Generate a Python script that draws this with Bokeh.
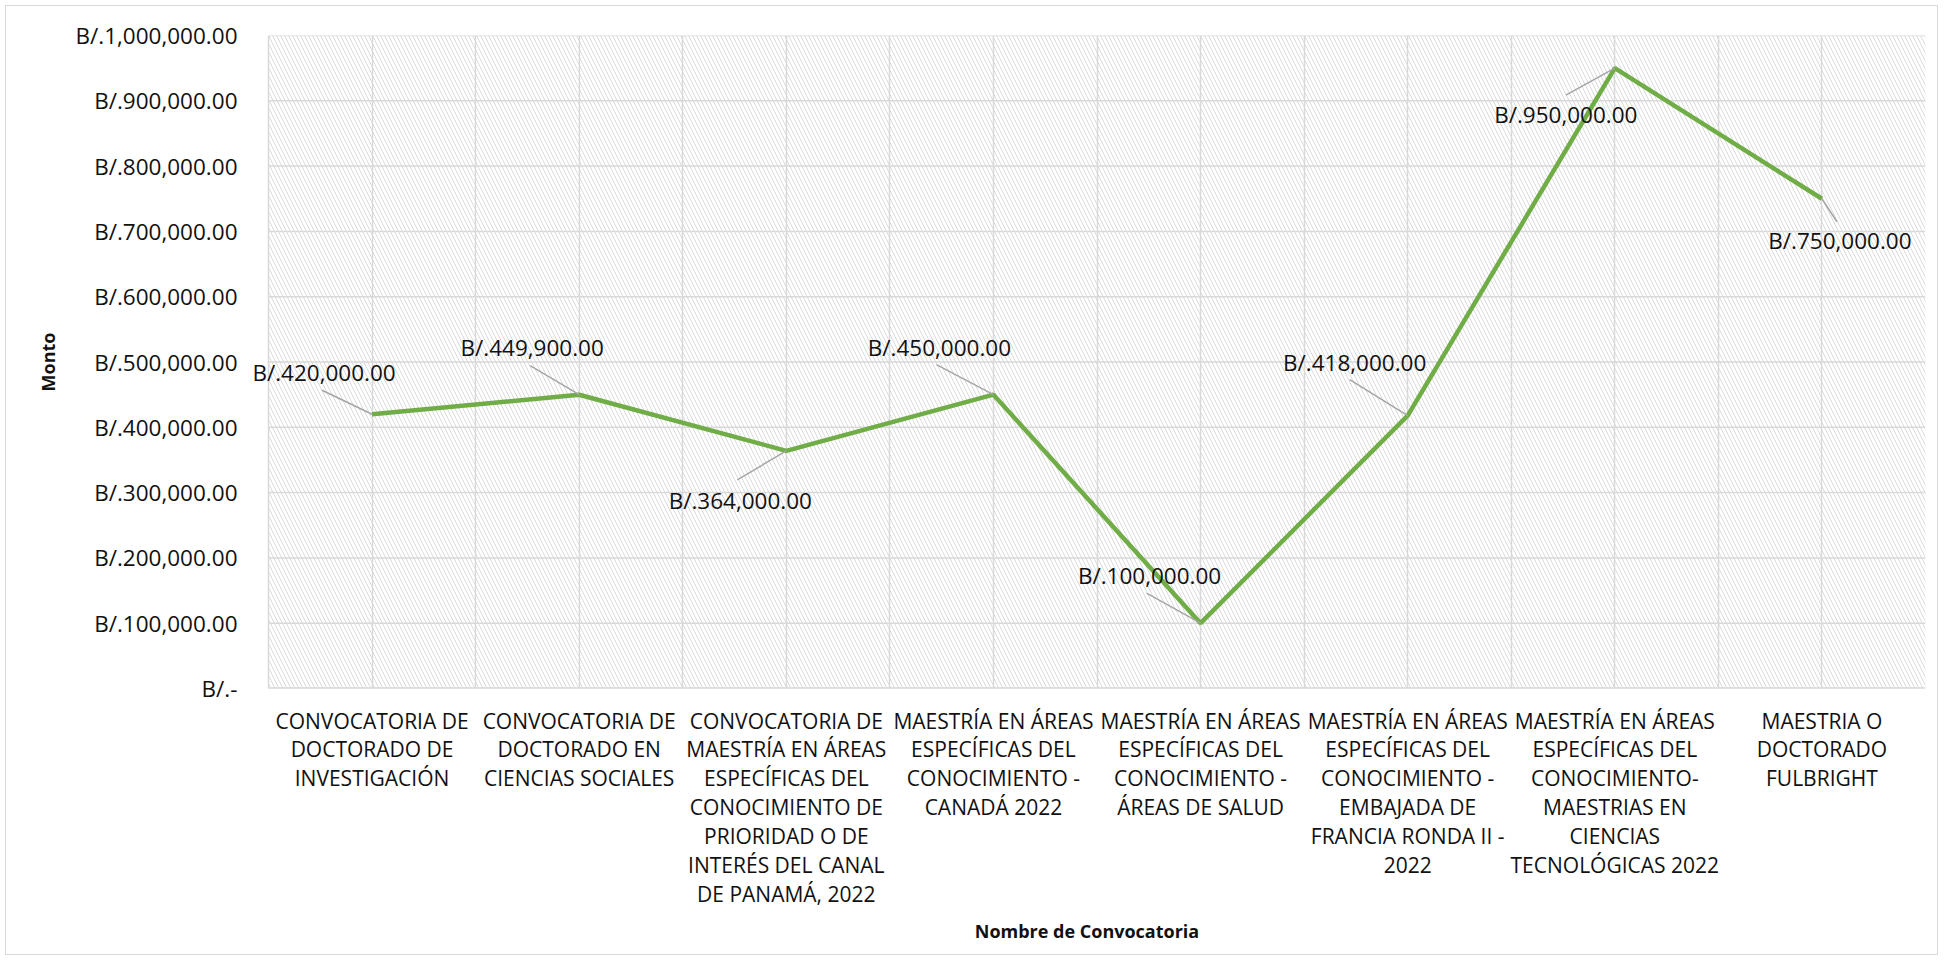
from bokeh.plotting import figure
from bokeh.models import FixedTicker, BoxAnnotation, ColumnDataSource, Range1d, LabelSet
from bokeh.core.properties import value
from bokeh.embed import file_html
from bokeh.resources import INLINE

# ---- data ----
categories = [
    "CONVOCATORIA DE\nDOCTORADO DE\nINVESTIGACIÓN",
    "CONVOCATORIA DE\nDOCTORADO EN\nCIENCIAS SOCIALES",
    "CONVOCATORIA DE\nMAESTRÍA EN ÁREAS\nESPECÍFICAS DEL\nCONOCIMIENTO DE\nPRIORIDAD O DE\nINTERÉS DEL CANAL\nDE PANAMÁ, 2022",
    "MAESTRÍA EN ÁREAS\nESPECÍFICAS DEL\nCONOCIMIENTO -\nCANADÁ 2022",
    "MAESTRÍA EN ÁREAS\nESPECÍFICAS DEL\nCONOCIMIENTO -\nÁREAS DE SALUD",
    "MAESTRÍA EN ÁREAS\nESPECÍFICAS DEL\nCONOCIMIENTO -\nEMBAJADA DE\nFRANCIA RONDA II -\n2022",
    "MAESTRÍA EN ÁREAS\nESPECÍFICAS DEL\nCONOCIMIENTO-\nMAESTRIAS EN\nCIENCIAS\nTECNOLÓGICAS 2022",
    "MAESTRIA O\nDOCTORADO\nFULBRIGHT",
]
montos = [420000, 449900, 364000, 450000, 100000, 418000, 950000, 750000]
y_ticks = [0, 100000, 200000, 300000, 400000, 500000, 600000, 700000, 800000, 900000, 1000000]
y_tick_labels = ["B/.-", "B/.100,000.00", "B/.200,000.00", "B/.300,000.00", "B/.400,000.00",
                 "B/.500,000.00", "B/.600,000.00", "B/.700,000.00", "B/.800,000.00",
                 "B/.900,000.00", "B/.1,000,000.00"]
x_title = "Nombre de Convocatoria"
y_title = "Monto"

# ---- layout / style (pixel offsets of data labels and leader lines, screen px, +y down) ----
label_dx = [-48, -47, -46, -54, -51, -53, -49, 18]
label_dy = [-42, -47, 50, -47, -48, -53, 46, 42]
leader_dx = [-50, -49, -49, -57, -54, -58, -49, 15]
leader_dy = [-24, -29, 29, -30, -30, -36, 27, 23]

FONT = "Open Sans"
W, H = 1943, 960
EXT = 20                      # extra room left of the plot area so the first label is not clipped
ML, MR, MT, MB = 268 - EXT, 18, 35, 272
FW, FH = W - ML - MR, H - MT - MB
n = len(categories)
ymax = 1000000

px_x = (FW - EXT) / n
px_y = FH / ymax
xs = [i + 0.5 for i in range(n)]

p = figure(width=W, height=H, output_backend="svg", toolbar_location=None,
           x_range=Range1d(-EXT / px_x, n), y_range=Range1d(0, ymax),
           min_border_left=ML, min_border_right=MR, min_border_top=MT, min_border_bottom=MB)
p.outline_line_color = None
p.background_fill_color = "white"
p.border_fill_alpha = 0
p.styles = {"outline": "1.5px solid #d9d9d9", "outline-offset": "-6px", "background": "white"}

# hatched plot area
p.add_layout(BoxAnnotation(left=0, fill_alpha=0, line_alpha=0, hatch_pattern="\\",
                           hatch_color="#dadada", hatch_weight=1, hatch_scale=8,
                           level="underlay"))

# grids
p.xgrid.ticker = FixedTicker(ticks=[i * 0.5 for i in range(2 * n + 1)])
p.xgrid.grid_line_color = "#d9d9d9"
p.xgrid.grid_line_width = 1.5
p.ygrid.grid_line_color = None
p.segment(x0=[0] * len(y_ticks), x1=[n] * len(y_ticks), y0=y_ticks, y1=y_ticks,
          line_color="#d9d9d9", line_width=1.5)
p.segment(x0=[0], x1=[n], y0=[0], y1=[0], line_color="#d9d9d9", line_width=2.5)

# axes
p.xaxis.ticker = FixedTicker(ticks=xs)
p.xaxis.major_label_overrides = {x: c for x, c in zip(xs, categories)}
p.yaxis.ticker = FixedTicker(ticks=y_ticks)
p.yaxis.major_label_overrides = {t: l for t, l in zip(y_ticks, y_tick_labels)}
for ax in (p.xaxis[0], p.yaxis[0]):
    ax.axis_line_color = None
    ax.major_tick_line_color = None
    ax.minor_tick_line_color = None
    ax.major_label_text_font = FONT
    ax.major_label_text_color = "#111111"
    ax.axis_label_text_font = FONT
    ax.axis_label_text_font_size = "18px"
    ax.axis_label_text_font_style = "bold"
    ax.axis_label_text_color = "#111111"
p.xaxis.major_label_text_font_size = "21px"
p.yaxis.major_label_text_font_size = "22.5px"
p.xaxis.major_label_text_line_height = 1.03
p.xaxis.major_label_standoff = 12
p.yaxis.major_label_standoff = 5
p.xaxis.axis_label = x_title
p.yaxis.axis_label = y_title
p.xaxis.axis_label_standoff = 8
p.yaxis.axis_label_standoff = 12

# line
p.line(xs, montos, line_color="#70AD47", line_width=4.5)

# leader lines
x0 = [x + dx / px_x for x, dx in zip(xs, leader_dx)]
y0 = [v - dy / px_y for v, dy in zip(montos, leader_dy)]
p.segment(x0=x0, y0=y0, x1=xs, y1=montos, line_color="#a6a6a6", line_width=1.5)

# data labels
src = ColumnDataSource(dict(x=xs, y=montos,
                            t=["B/.{:,.2f}".format(v) for v in montos],
                            dx=label_dx, dy=[-d for d in label_dy]))
p.add_layout(LabelSet(x="x", y="y", text="t", x_offset="dx", y_offset="dy", source=src,
                      text_align="center", text_baseline="middle",
                      text_font=value(FONT), text_font_size="22.5px", text_color="#111111"))

open("out.html", "w").write(file_html(p, INLINE))
